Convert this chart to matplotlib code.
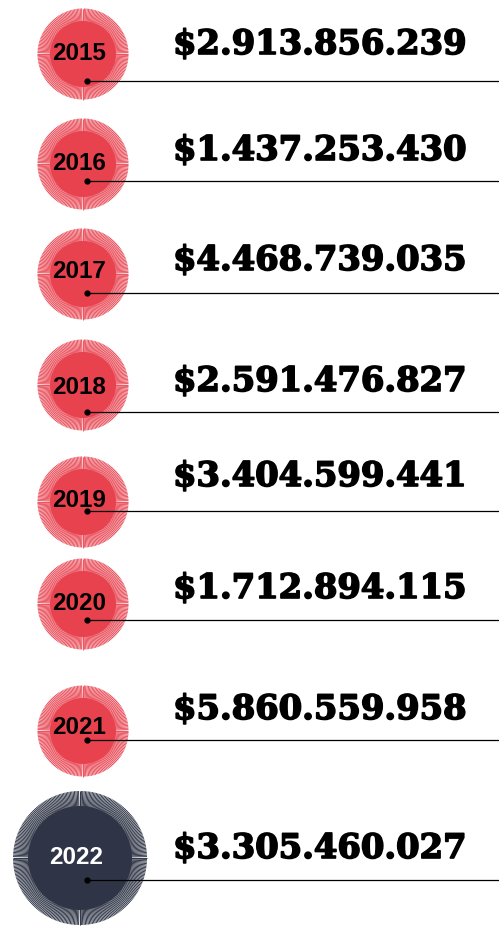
import numpy as np
import matplotlib
matplotlib.use("Agg")
from matplotlib import pyplot as plt
from matplotlib.patches import Circle
from matplotlib.collections import LineCollection
import matplotlib.patheffects as pe

# data
years = ["2015", "2016", "2017", "2018", "2019", "2020", "2021", "2022"]
amounts = [2913856239, 1437253430, 4468739035, 2591476827,
           3404599441, 1712894115, 5860559958, 3305460027]

# layout (pixels, figure is 499 x 927)
line_y = [81, 181, 293, 412, 511, 620, 740, 880]
circle_y = [54, 164, 274, 385, 502, 604, 731, 858]
label_y = [53, 163, 272, 387, 500, 603, 727, 857]
text_base = [54, 160, 270, 391, 486, 598, 719, 858]

W, H = 499, 927
fig = plt.figure(figsize=(W / 100, H / 100), dpi=100)
ax = fig.add_axes([0, 0, 1, 1])
ax.set_xlim(0, W)
ax.set_ylim(H, 0)
ax.axis("off")


def fmt(v):
    return "$" + "{:,}".format(v).replace(",", ".")


def sunburst(cx, cy, r, r_in, color, ring_bg, n=200, lw=0.7):
    ax.add_patch(Circle((cx, cy), r, facecolor=ring_bg, edgecolor="none", zorder=1))
    ang = np.linspace(0, 2 * np.pi, n, endpoint=False)
    segs = [[(cx, cy), (cx + r * np.cos(a), cy + r * np.sin(a))] for a in ang]
    ax.add_collection(LineCollection(segs, colors=color, linewidths=lw, zorder=2))
    ax.add_patch(Circle((cx, cy), r_in, facecolor=color, edgecolor="none", zorder=3))


for i, (yr, val) in enumerate(zip(years, amounts)):
    last = i == len(years) - 1
    if last:
        cx, r, r_in = 80, 67, 52
        col, bg, tcol = "#2f3546", "white", "white"
        n, lw = 300, 0.7
    else:
        cx, r, r_in = 83, 45.5, 33
        col, bg, tcol = "#e8424f", "#fbe3e5", "black"
        n, lw = 200, 0.6
    sunburst(cx, circle_y[i], r, r_in, col, bg, n, lw)
    ax.text(cx - 4, label_y[i], yr, ha="center", va="center", color=tcol,
            fontsize=17.5, fontweight="bold", family="Liberation Sans", zorder=5)
    ax.plot([87, W], [line_y[i], line_y[i]], color="black", lw=0.9, zorder=4)
    ax.plot(87, line_y[i], "o", color="black", ms=3.5, zorder=6)
    t = ax.text(173, text_base[i], fmt(val), ha="left", va="baseline",
                fontsize=24.3, fontweight="bold", family="DejaVu Serif",
                color="black", zorder=5)
    t.set_path_effects([pe.withStroke(linewidth=1.2, foreground="black")])

fig.savefig("out.png", dpi=100)
